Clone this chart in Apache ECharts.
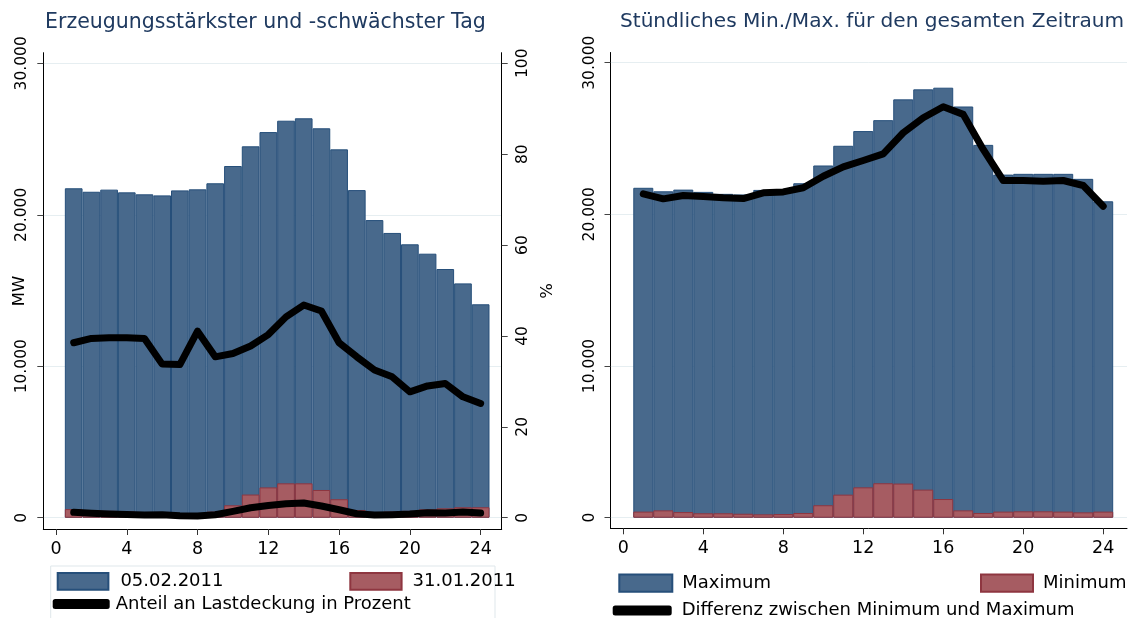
<!DOCTYPE html>
<html><head><meta charset="utf-8">
<script src="https://cdn.jsdelivr.net/npm/echarts@6/dist/echarts.min.js"></script>
<style>html,body{margin:0;padding:0;background:#fff}#c{width:1130px;height:618px}</style>
</head><body><div id="c"></div>
<script>
const hours = [1,2,3,4,5,6,7,8,9,10,11,12,13,14,15,16,17,18,19,20,21,22,23,24];
const maxDayMW = [21750,21520,21660,21480,21350,21280,21610,21680,22080,23220,24520,25460,26210,26370,25710,24320,21630,19650,18800,18050,17430,16420,15470,14090];
const minDayMW = [570,500,450,400,350,350,300,300,400,820,1530,2000,2270,2270,1830,1220,510,350,400,450,550,620,690,690];
const maxDayShare = [38.5,39.45,39.6,39.6,39.45,33.8,33.7,41.05,35.4,36.15,37.8,40.3,44.2,46.8,45.5,38.5,35.4,32.5,31.0,27.7,29.0,29.55,26.6,25.15];
const minDayShare = [1.18,0.96,0.8,0.7,0.6,0.65,0.45,0.37,0.66,1.4,2.2,2.7,3.08,3.23,2.57,1.76,0.88,0.59,0.66,0.81,1.1,1.03,1.25,1.03];
const hourlyMax = [21750,21520,21630,21480,21350,21310,21610,21660,22050,23220,24520,25490,26210,27580,28240,28350,27110,24580,22620,22670,22670,22670,22340,20860];
const hourlyMin = [400,480,370,290,290,260,220,240,310,820,1520,2000,2270,2250,1850,1230,480,310,400,420,420,400,350,400];
const hourlyDiff = [21350,21020,21240,21170,21090,21040,21420,21480,21750,22510,23130,23550,23990,25380,26370,27090,26590,24280,22230,22230,22180,22230,21900,20530];
const mwTicks = [0,10000,20000,30000];
const pctTicks = [0,20,40,60,80,100];
const hourTicks = [0,4,8,12,16,20,24];
const titles = ['Erzeugungsstärkster und -schwächster Tag','Stündliches Min./Max. für den gesamten Zeitraum'];
const names = {maxDay:'05.02.2011', minDay:'31.01.2011', share:'Anteil an Lastdeckung in Prozent', hMax:'Maximum', hMin:'Minimum', diff:'Differenz zwischen Minimum und Maximum'};

const FONT = 'DejaVu Sans';
const BLUE = '#48698c', BLUE_B = '#264f7a', RED = '#a65c62', RED_B = '#8e3640';
const GRID = '#e6eef1';
const fmtDE = v => String(v).replace(/\B(?=(\d{3})+(?!\d))/g, '.');
const pairs = arr => hours.map((h, i) => [h, arr[i]]);

function xAxis(gi, min, max) {
  return {type:'value', gridIndex:gi, min, max,
    axisLine:{show:true, onZero:false, lineStyle:{color:'#000', width:1}},
    axisTick:{show:true, length:6, customValues:hourTicks, lineStyle:{color:'#333'}},
    axisLabel:{customValues:hourTicks, margin:11, fontFamily:FONT, fontSize:17.5, color:'#000'},
    splitLine:{show:false}};
}
function yAxisMW(gi, min, max, name) {
  return {type:'value', gridIndex:gi, position:'left', min, max,
    name: name, nameLocation:'middle', nameRotate:90, nameGap:15, nameMoveOverlap:false,
    nameTextStyle:{fontFamily:FONT, fontSize:16.5, color:'#000'},
    axisLine:{show:true, onZero:false, lineStyle:{color:'#000', width:1}},
    axisTick:{show:true, length:6, customValues:mwTicks, lineStyle:{color:'#444'}},
    axisLabel:{customValues:mwTicks, rotate:90, margin:13, fontFamily:FONT, fontSize:15.5, color:'#000', formatter:fmtDE},
    splitLine:{show:true, customValues:mwTicks, lineStyle:{color:GRID, width:1}}};
}

const option = {
  animation:false,
  backgroundColor:'#fff',
  title:[
    {text:titles[0], left:40, top:7, textStyle:{fontFamily:FONT, fontSize:20.5, fontWeight:'normal', color:'#1f3a60'}},
    {text:titles[1], left:615, top:7, textStyle:{fontFamily:FONT, fontSize:20.1, fontWeight:'normal', color:'#1f3a60'}}
  ],
  grid:[
    {left:43.3, top:52.7, width:458.4, height:476.3},
    {left:610.5, top:52.5, width:516.5, height:475.8}
  ],
  xAxis:[xAxis(0, -0.718, 25.19), xAxis(1, -0.64, 25.19)],
  yAxis:[
    yAxisMW(0, -745, 30700, 'MW'),
    {type:'value', gridIndex:0, position:'right', min:-2.483, max:102.33,
      name:'%', nameLocation:'middle', nameRotate:90, nameGap:38, nameMoveOverlap:false,
      nameTextStyle:{fontFamily:FONT, fontSize:16.5, color:'#000'},
      axisLine:{show:true, onZero:false, lineStyle:{color:'#000', width:1}},
      axisTick:{show:true, length:6, customValues:pctTicks, lineStyle:{color:'#444'}},
      axisLabel:{customValues:pctTicks, rotate:90, margin:13, fontFamily:FONT, fontSize:15.5, color:'#000'},
      splitLine:{show:false}},
    yAxisMW(1, -700, 30670, '')
  ],
  legend:[
    {left:56.7, top:572, padding:0, selectedMode:false, itemWidth:50.7, itemHeight:16.7, icon:'rect',
      textStyle:{fontFamily:FONT, fontSize:18, color:'#000', padding:[0,0,0,7]}, data:[names.maxDay]},
    {left:349.3, top:572, padding:0, selectedMode:false, itemWidth:51.3, itemHeight:16.7, icon:'rect',
      textStyle:{fontFamily:FONT, fontSize:18, color:'#000', padding:[0,0,0,6]}, data:[names.minDay]},
    {left:52.7, top:595, padding:0, selectedMode:false, itemWidth:57, itemHeight:10,
      textStyle:{fontFamily:FONT, fontSize:18, color:'#000', padding:[0,0,0,1]},
      data:[{name:names.share, icon:'roundRect', itemStyle:{color:'#000'}}]},
    {left:618.3, top:573.5, padding:0, selectedMode:false, itemWidth:53, itemHeight:17.3, icon:'rect',
      textStyle:{fontFamily:FONT, fontSize:18, color:'#000', padding:[0,0,0,5]}, data:[names.hMax]},
    {left:980, top:573.5, padding:0, selectedMode:false, itemWidth:52, itemHeight:17.3, icon:'rect',
      textStyle:{fontFamily:FONT, fontSize:18, color:'#000', padding:[0,0,0,5]}, data:[names.hMin]},
    {left:612.7, top:601.5, padding:0, selectedMode:false, itemWidth:59, itemHeight:10,
      textStyle:{fontFamily:FONT, fontSize:18, color:'#000', padding:[0,0,0,5]},
      data:[{name:names.diff, icon:'roundRect', itemStyle:{color:'#000'}}]}
  ],
  graphic:[
    {type:'rect', shape:{x:50.7, y:566, width:444.3, height:60}, style:{fill:'none', stroke:'#dfe7eb', lineWidth:1}, silent:true, z:-1}
  ],
  series:[
    {name:names.maxDay, type:'bar', xAxisIndex:0, yAxisIndex:0, data:pairs(maxDayMW), barWidth:'100%', barGap:'-100%',
      itemStyle:{color:BLUE, borderColor:BLUE_B, borderWidth:1}},
    {name:names.minDay, type:'bar', xAxisIndex:0, yAxisIndex:0, data:pairs(minDayMW), barWidth:'100%', barGap:'-100%',
      itemStyle:{color:RED, borderColor:RED_B, borderWidth:1}},
    {name:names.share, type:'line', xAxisIndex:0, yAxisIndex:1, data:pairs(maxDayShare), showSymbol:false, symbol:'none',
      itemStyle:{color:'#000'}, lineStyle:{color:'#000', width:7, cap:'round', join:'round'}, z:5},
    {name:names.share, type:'line', xAxisIndex:0, yAxisIndex:1, data:pairs(minDayShare), showSymbol:false, symbol:'none',
      itemStyle:{color:'#000'}, lineStyle:{color:'#000', width:7, cap:'round', join:'round'}, z:5},
    {name:names.hMax, type:'bar', xAxisIndex:1, yAxisIndex:2, data:pairs(hourlyMax), barWidth:'100%', barGap:'-100%',
      itemStyle:{color:BLUE, borderColor:BLUE_B, borderWidth:1}},
    {name:names.hMin, type:'bar', xAxisIndex:1, yAxisIndex:2, data:pairs(hourlyMin), barWidth:'100%', barGap:'-100%',
      itemStyle:{color:RED, borderColor:RED_B, borderWidth:1}},
    {name:names.diff, type:'line', xAxisIndex:1, yAxisIndex:2, data:pairs(hourlyDiff), showSymbol:false, symbol:'none',
      itemStyle:{color:'#000'}, lineStyle:{color:'#000', width:7, cap:'round', join:'round'}, z:5}
  ]
};
const chart = echarts.init(document.getElementById('c'), null, {renderer:'canvas'});
chart.setOption(option);
</script></body></html>
